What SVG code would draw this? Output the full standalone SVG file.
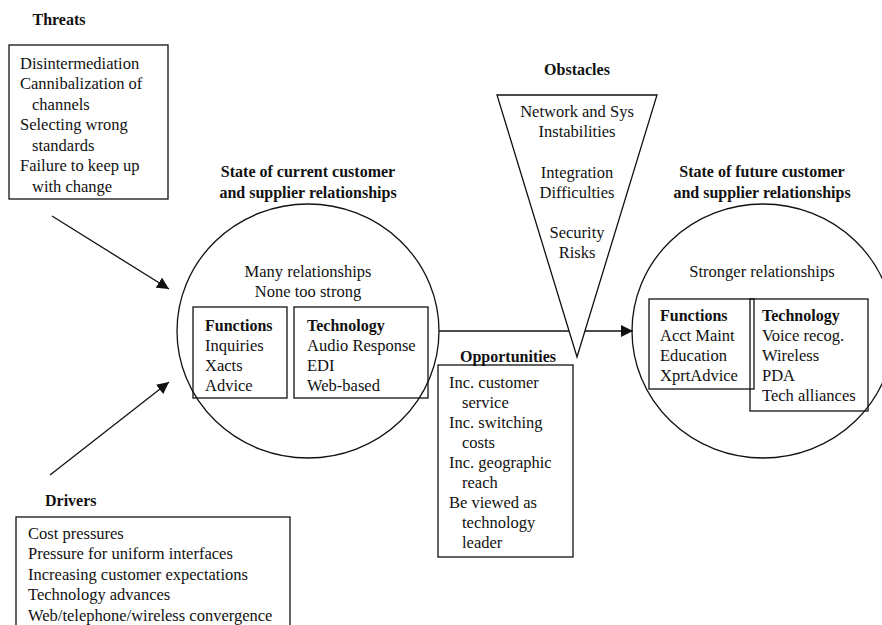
<svg xmlns="http://www.w3.org/2000/svg" width="882" height="625" viewBox="0 0 882 625">
<style>
text{font-family:"Liberation Serif","Times New Roman",serif;font-size:16.5px;fill:#111}
.b{font-weight:bold;font-size:16px}
.c{text-anchor:middle}
.s{fill:none;stroke:#111;stroke-width:1.3}
.w{fill:#fff;stroke:#111;stroke-width:1.3}
</style>
<defs>
<marker id="ah" viewBox="0 0 10 10" refX="10" refY="5" markerWidth="12" markerHeight="12" markerUnits="userSpaceOnUse" orient="auto">
<path d="M0,0 L10,5 L0,10 z" fill="#111"/>
</marker>
</defs>
<g id="connectors">
<line class="s" x1="52" y1="216" x2="169" y2="289" marker-end="url(#ah)"/>
<line class="s" x1="50" y1="475" x2="169" y2="382" marker-end="url(#ah)"/>
<line class="s" x1="439" y1="331" x2="633" y2="331" marker-end="url(#ah)"/>
</g>
<g id="threats">
<text class="b c" x="59" y="25">Threats</text>
<rect class="s" x="9" y="45" width="159" height="154"/>
<text x="20" y="69">Disintermediation</text>
<text x="20" y="89">Cannibalization of</text>
<text x="32" y="110">channels</text>
<text x="20" y="130">Selecting wrong</text>
<text x="32" y="151">standards</text>
<text x="20" y="171">Failure to keep up</text>
<text x="32" y="192">with change</text>
</g>
<g id="current">
<text class="b c" x="308" y="177">State of current customer</text>
<text class="b c" x="308" y="198">and supplier relationships</text>
<ellipse class="s" cx="308" cy="331" rx="131" ry="127"/>
<text class="c" x="308" y="277">Many relationships</text>
<text class="c" x="308" y="297">None too strong</text>
<rect class="s" x="193" y="307" width="94" height="91"/>
<rect class="s" x="294" y="307" width="134" height="91"/>
<text class="b" x="205" y="331">Functions</text>
<text x="205" y="351">Inquiries</text>
<text x="205" y="371">Xacts</text>
<text x="205" y="391">Advice</text>
<text class="b" x="307" y="331">Technology</text>
<text x="307" y="351">Audio Response</text>
<text x="307" y="371">EDI</text>
<text x="307" y="391">Web-based</text>
</g>
<g id="obstacles">
<text class="b c" x="577" y="75">Obstacles</text>
<polygon class="w" points="497,95 657,95 577,357"/>
<text class="c" x="577" y="117">Network and Sys</text>
<text class="c" x="577" y="137">Instabilities</text>
<text class="c" x="577" y="178">Integration</text>
<text class="c" x="577" y="198">Difficulties</text>
<text class="c" x="577" y="238">Security</text>
<text class="c" x="577" y="258">Risks</text>
</g>
<g id="opportunities">
<text class="b c" x="508" y="362">Opportunities</text>
<rect class="s" x="438" y="365" width="135" height="192"/>
<text x="449" y="388">Inc. customer</text>
<text x="462" y="408">service</text>
<text x="449" y="428">Inc. switching</text>
<text x="462" y="448">costs</text>
<text x="449" y="468">Inc. geographic</text>
<text x="462" y="488">reach</text>
<text x="449" y="508">Be viewed as</text>
<text x="462" y="528">technology</text>
<text x="462" y="548">leader</text>
</g>
<g id="future">
<text class="b c" x="762" y="177">State of future customer</text>
<text class="b c" x="762" y="198">and supplier relationships</text>
<ellipse class="s" cx="763" cy="331" rx="131" ry="127"/>
<text class="c" x="762" y="277">Stronger relationships</text>
<rect class="s" x="750" y="299" width="118" height="112"/>
<rect class="s" x="649" y="299" width="105" height="90"/>
<text class="b" x="660" y="321">Functions</text>
<text x="660" y="341">Acct Maint</text>
<text x="660" y="361">Education</text>
<text x="660" y="381">XprtAdvice</text>
<text class="b" x="762" y="321">Technology</text>
<text x="762" y="341">Voice recog.</text>
<text x="762" y="361">Wireless</text>
<text x="762" y="381">PDA</text>
<text x="762" y="401">Tech alliances</text>
</g>
<g id="drivers">
<text class="b" x="45" y="506">Drivers</text>
<rect class="s" x="16" y="517" width="274" height="120"/>
<text x="28" y="539">Cost pressures</text>
<text x="28" y="559">Pressure for uniform interfaces</text>
<text x="28" y="580">Increasing customer expectations</text>
<text x="28" y="600">Technology advances</text>
<text x="28" y="621">Web/telephone/wireless convergence</text>
</g>
</svg>
